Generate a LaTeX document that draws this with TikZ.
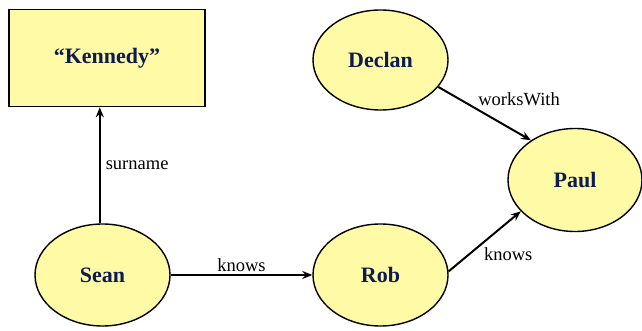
\documentclass[tikz,border=0pt]{standalone}
\usepackage{fontspec}
\setmainfont{Liberation Serif}
\usetikzlibrary{shapes.geometric,arrows.meta}
\definecolor{nodefill}{RGB}{255,250,165}
\definecolor{nodetext}{RGB}{12,28,80}

\begin{document}
\begin{tikzpicture}[x=1pt,y=-1pt,
  res/.style={ellipse,draw,line width=1.4pt,fill=nodefill,text=nodetext,inner sep=0pt,
    font=\fontsize{22}{24}\selectfont\bfseries,minimum width=135pt,minimum height=102pt},
  lit/.style={rectangle,draw,line width=1.6pt,fill=nodefill,text=nodetext,inner sep=0pt,
    font=\fontsize{22}{24}\selectfont\bfseries,minimum width=196pt,minimum height=97pt},
  prop/.style={-{Stealth[length=10pt,width=8pt]},line width=2pt},
  lbl/.style={font=\fontsize{18.5}{20}\selectfont,inner sep=2pt}]
  \useasboundingbox (0,0) rectangle (642,331);
  \node[lit] (kennedy) at (107,58) {“Kennedy”};
  \node[res] (sean) at (102.5,275) {Sean};
  \node[res] (rob) at (380.5,275) {Rob};
  \node[res,minimum height=100pt] (declan) at (380.5,60) {Declan};
  \node[res,minimum width=134pt,minimum height=103pt] (paul) at (575,180) {Paul};
  \draw[prop] (sean.93) -- node[lbl,right=3pt] {surname} (sean.93 |- kennedy.south);
  \draw[prop] (sean) -- node[lbl,above] {knows} (rob);
  \draw[prop] (rob.3) -- node[lbl,below right,pos=0.45] {knows} (paul.210);
  \draw[prop] (declan.335) -- node[lbl,above right,pos=0.4] {worksWith} (paul.138);
\end{tikzpicture}
\end{document}
